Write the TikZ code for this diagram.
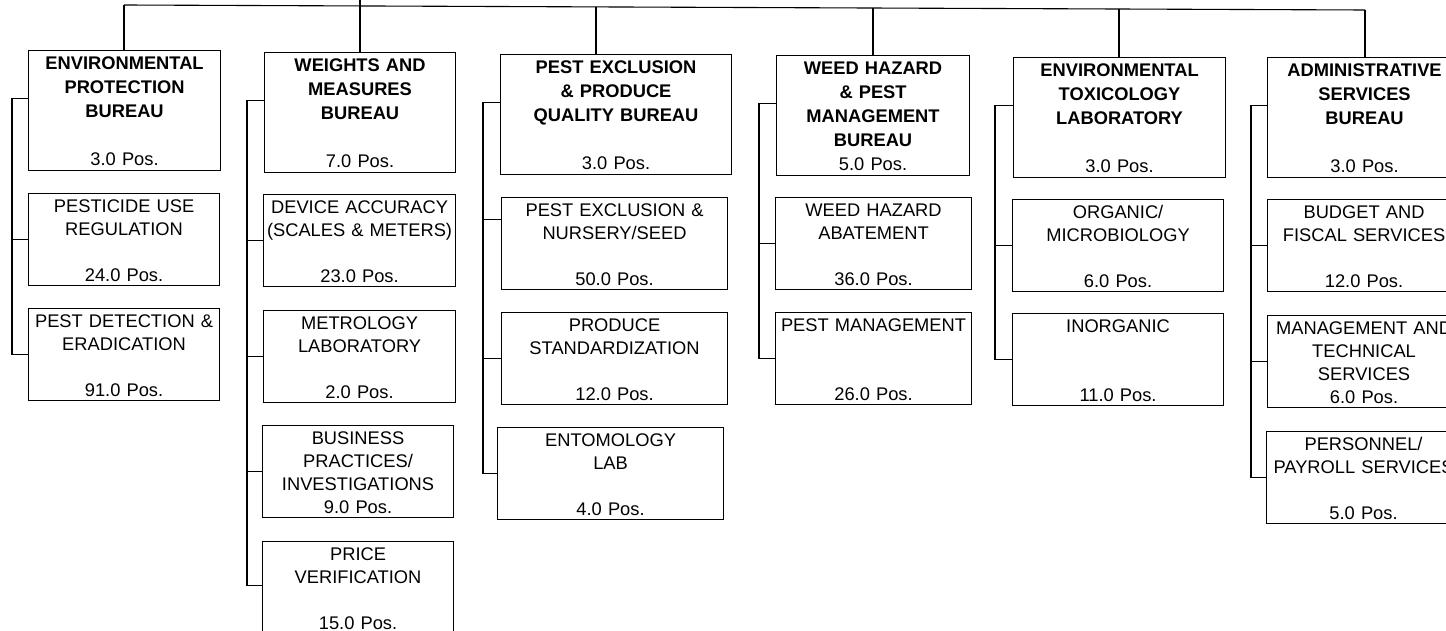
\documentclass[tikz,border=0pt]{standalone}
\usepackage{fontspec}
\setmainfont{Liberation Sans}
\newcommand\fstrut{\rule{0pt}{18.5pt}}
\newcommand\lstrut[1]{\rule[-#1]{0pt}{#1}}
\newcommand\pos[1]{{\mdseries #1 Pos.}}
\tikzset{
  wire/.style={line width=1.1pt},
  boxbase/.style={draw, line width=1.1pt, anchor=north west, inner xsep=1pt, inner ysep=0pt, align=center},
  bur/.style={boxbase, font=\fontsize{18.3}{24}\selectfont\bfseries, minimum height=120pt},
  sub/.style={boxbase, font=\fontsize{18.3}{23.3}\selectfont, minimum height=92pt},
}
\begin{document}
\begin{tikzpicture}[x=1pt,y=-1pt]
\useasboundingbox (0,0) rectangle (1446,631);
% bureaus
\node[bur, minimum width=192pt, text width=190pt] (b1) at (28,50) {\fstrut ENVIRONMENTAL\\PROTECTION\\BUREAU\\~\\\pos{3.0}\lstrut{5.5pt}};
\node[bur, minimum width=191pt, text width=189pt] (b2) at (264,52) {\fstrut WEIGHTS AND\\MEASURES\\BUREAU\\~\\\pos{7.0}\lstrut{5.5pt}};
\node[bur, minimum width=231pt, text width=229pt] (b3) at (500,54) {\fstrut PEST EXCLUSION\\\& PRODUCE\\QUALITY BUREAU\\~\\\pos{3.0}\lstrut{5.5pt}};
\node[bur, minimum width=193pt, text width=191pt] (b4) at (776,55) {\fstrut WEED HAZARD\\\& PEST\\MANAGEMENT\\BUREAU\\\pos{5.0}\lstrut{5.5pt}};
\node[bur, minimum width=212pt, text width=210pt] (b5) at (1013,57) {\fstrut ENVIRONMENTAL\\TOXICOLOGY\\LABORATORY\\~\\\pos{3.0}\lstrut{5.5pt}};
\node[bur, minimum width=194pt, text width=192pt] (b6) at (1267,57) {\fstrut ADMINISTRATIVE\\SERVICES\\BUREAU\\~\\\pos{3.0}\lstrut{5.5pt}};
% column 1
\node[sub, minimum width=191pt, text width=189pt] (c1a) at (28,193) {\fstrut PESTICIDE USE\\REGULATION\\~\\24.0 Pos.\lstrut{3.6pt}};
\node[sub, minimum width=191pt, text width=189pt] (c1b) at (28,308) {\fstrut PEST DETECTION \&\\ERADICATION\\~\\91.0 Pos.\lstrut{3.6pt}};
% column 2
\node[sub, minimum width=192pt, text width=190pt] (c2a) at (263,194) {\fstrut DEVICE ACCURACY\\(SCALES \& METERS)\\~\\23.0 Pos.\lstrut{3.6pt}};
\node[sub, minimum width=192pt, text width=190pt] (c2b) at (263,310) {\fstrut METROLOGY\\LABORATORY\\~\\2.0 Pos.\lstrut{3.6pt}};
\node[sub, minimum width=191pt, text width=189pt] (c2c) at (262,425) {\fstrut BUSINESS\\PRACTICES/\\INVESTIGATIONS\\9.0 Pos.\lstrut{3.6pt}};
\node[sub, minimum width=191pt, text width=189pt] (c2d) at (262,541) {\fstrut PRICE\\VERIFICATION\\~\\15.0 Pos.\lstrut{3.6pt}};
% column 3
\node[sub, minimum width=226pt, text width=224pt] (c3a) at (501,197) {\fstrut PEST EXCLUSION \&\\NURSERY/SEED\\~\\50.0 Pos.\lstrut{3.6pt}};
\node[sub, minimum width=226pt, text width=224pt] (c3b) at (501,312) {\fstrut PRODUCE\\STANDARDIZATION\\~\\12.0 Pos.\lstrut{3.6pt}};
\node[sub, minimum width=226pt, text width=224pt] (c3c) at (497,427) {\fstrut ENTOMOLOGY\\LAB\\~\\4.0 Pos.\lstrut{3.6pt}};
% column 4
\node[sub, minimum width=196pt, text width=194pt] (c4a) at (775,197) {\fstrut WEED HAZARD\\ABATEMENT\\~\\36.0 Pos.\lstrut{3.6pt}};
\node[sub, minimum width=196pt, text width=194pt] (c4b) at (775,312) {\fstrut PEST MANAGEMENT\\~\\~\\26.0 Pos.\lstrut{3.6pt}};
% column 5
\node[sub, minimum width=211pt, text width=209pt] (c5a) at (1012,199) {\fstrut ORGANIC/\\MICROBIOLOGY\\~\\6.0 Pos.\lstrut{3.6pt}};
\node[sub, minimum width=211pt, text width=209pt] (c5b) at (1012,313) {\fstrut INORGANIC\\~\\~\\11.0 Pos.\lstrut{3.6pt}};
% column 6
\node[sub, minimum width=193pt, text width=191pt] (c6a) at (1267,199) {\fstrut BUDGET AND\\FISCAL SERVICES\\~\\12.0 Pos.\lstrut{3.6pt}};
\node[sub, minimum width=193pt, text width=191pt] (c6b) at (1267,315) {\fstrut MANAGEMENT AND\\TECHNICAL\\SERVICES\\6.0 Pos.\lstrut{3.6pt}};
\node[sub, minimum width=194pt, text width=192pt] (c6c) at (1266,431) {\fstrut PERSONNEL/\\PAYROLL SERVICES\\~\\5.0 Pos.\lstrut{3.6pt}};
% top bus
\coordinate (up) at (360,-5);
\coordinate (t1) at (124,5);
\coordinate (t2) at (360,6);
\coordinate (t3) at (596,7);
\coordinate (t4) at (873,8);
\coordinate (t5) at (1119,9);
\coordinate (t6) at (1365,10);
\draw[wire] (t1) -- (t6);
\draw[wire] (up) -- (t2);
\draw[wire] (t1) -- (t1 |- b1.north);
\draw[wire] (t2) -- (t2 |- b2.north);
\draw[wire] (t3) -- (t3 |- b3.north);
\draw[wire] (t4) -- (t4 |- b4.north);
\draw[wire] (t5) -- (t5 |- b5.north);
\draw[wire] (t6) -- (t6 |- b6.north);
% branch x positions
\coordinate (k1) at (12,0);
\coordinate (k2) at (247,0);
\coordinate (k3) at (483,0);
\coordinate (k4) at (759,0);
\coordinate (k5) at (995,0);
\coordinate (k6) at (1251,0);
% column 1
\draw[wire] ([yshift=12pt]b1.west) -- ([yshift=12pt]b1.west -| k1) |- (c1b.west);
\draw[wire] (c1a.west) -- (c1a.west -| k1);
% column 2
\draw[wire] ([yshift=12pt]b2.west) -- ([yshift=12pt]b2.west -| k2) |- ([yshift=2pt]c2d.west);
\draw[wire] (c2a.west) -- (c2a.west -| k2);
\draw[wire] (c2b.west) -- (c2b.west -| k2);
\draw[wire] (c2c.west) -- (c2c.west -| k2);
% column 3
\draw[wire] ([yshift=12pt]b3.west) -- ([yshift=12pt]b3.west -| k3) |- (c3c.west);
\draw[wire] ([yshift=24pt]c3a.west) -- ([yshift=24pt]c3a.west -| k3);
\draw[wire] (c3b.west) -- (c3b.west -| k3);
% column 4
\draw[wire] ([yshift=12pt]b4.west) -- ([yshift=12pt]b4.west -| k4) |- (c4b.west);
\draw[wire] (c4a.west) -- (c4a.west -| k4);
% column 5
\draw[wire] ([yshift=12pt]b5.west) -- ([yshift=12pt]b5.west -| k5) |- (c5b.west);
\draw[wire] (c5a.west) -- (c5a.west -| k5);
% column 6
\draw[wire] ([yshift=12pt]b6.west) -- ([yshift=12pt]b6.west -| k6) |- (c6c.west);
\draw[wire] (c6a.west) -- (c6a.west -| k6);
\draw[wire] (c6b.west) -- (c6b.west -| k6);
\end{tikzpicture}
\end{document}
